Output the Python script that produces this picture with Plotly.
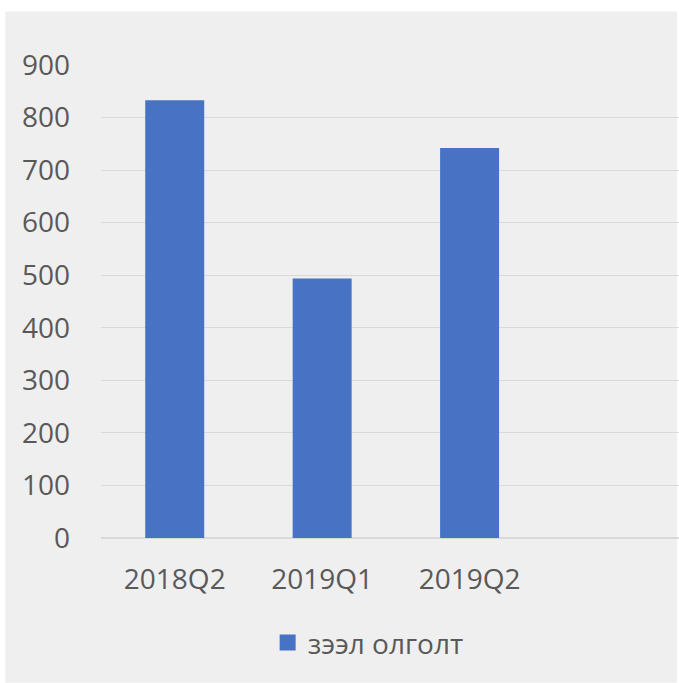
import plotly.graph_objects as go

categories = ["2018Q2", "2019Q1", "2019Q2"]
values = [833, 494, 742]
series_name = "зээл олголт"

W, H = 679, 683
L, R, T, B = 100.75, 0, 64.5, 145
plot_w = W - L - R
plot_h = H - T - B

def px_to_paper_x(px):
    return (px - L) / plot_w

def px_to_paper_y(py):
    return (H - B - py) / plot_h

font_col = "#595959"
fnt = "Open Sans"
bar_col = "#4873c5"

fig = go.Figure()
fig.add_trace(go.Bar(
    x=categories, y=values, name=series_name,
    marker=dict(color=bar_col, line=dict(width=0)),
    showlegend=False, legendgroup="s",
))
# legend entry with a larger square swatch
fig.add_trace(go.Scatter(
    x=[None], y=[None], mode="markers", name=series_name, legendgroup="s",
    marker=dict(symbol="square", size=16, color=bar_col),
    showlegend=True,
))

fig.add_shape(type="rect", xref="paper", yref="paper",
              x0=px_to_paper_x(5), x1=px_to_paper_x(677),
              y0=px_to_paper_y(683), y1=px_to_paper_y(11),
              fillcolor="#efefef", line=dict(width=0), layer="below")

fig.update_layout(
    width=W, height=H,
    margin=dict(l=L, r=R, t=T, b=B, pad=0),
    paper_bgcolor="white",
    plot_bgcolor="rgba(0,0,0,0)",
    bargap=0.6,
    font=dict(family=fnt, size=28, color=font_col),
    showlegend=True,
    legend=dict(orientation="h", x=px_to_paper_x(368), xanchor="center",
                y=px_to_paper_y(643), yanchor="middle",
                itemsizing="trace", itemwidth=30,
                font=dict(family=fnt, size=28, color=font_col),
                bgcolor="rgba(0,0,0,0)"),
    xaxis=dict(type="category", range=[-0.5, -0.5 + plot_w / 147.5],
               showgrid=False, zeroline=False, showline=False,
               ticks="", ticklabelstandoff=22,
               tickfont=dict(family=fnt, size=28, color=font_col)),
    yaxis=dict(range=[0, 900], dtick=100, tick0=0,
               showgrid=True, gridcolor="#d9d9d9", gridwidth=1.3,
               zeroline=True, zerolinecolor="#d9d9d9", zerolinewidth=1.6,
               showline=False, ticks="", ticklabelstandoff=30,
               tickfont=dict(family=fnt, size=28, color=font_col)),
)

fig.write_html("out.html", config={"displayModeBar": False},
               post_script="document.body.style.margin='0';document.body.style.overflow='hidden';")
